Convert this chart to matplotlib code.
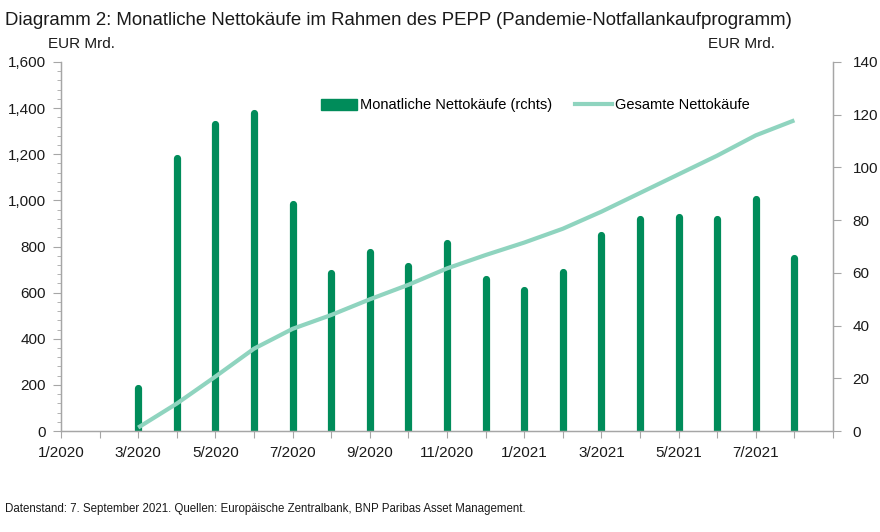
import matplotlib
matplotlib.use("Agg")
import matplotlib.pyplot as plt
from matplotlib.lines import Line2D
from matplotlib.patches import Patch

plt.rcParams['font.family'] = ['Liberation Sans', 'DejaVu Sans']

months = ["1/2020", "2/2020", "3/2020", "4/2020", "5/2020", "6/2020", "7/2020",
          "8/2020", "9/2020", "10/2020", "11/2020", "12/2020", "1/2021", "2/2021",
          "3/2021", "4/2021", "5/2021", "6/2021", "7/2021", "8/2021", "9/2021"]

# monthly net purchases (right axis, EUR bn), from 3/2020 to 8/2021
bar_months = ["3/2020", "4/2020", "5/2020", "6/2020", "7/2020", "8/2020", "9/2020",
              "10/2020", "11/2020", "12/2020", "1/2021", "2/2021", "3/2021", "4/2021",
              "5/2021", "6/2021", "7/2021", "8/2021"]
monthly = [16.2, 103.7, 116.4, 120.8, 86.2, 59.9, 67.8, 62.6, 71.3, 57.8,
           53.6, 60.4, 74.2, 80.5, 81.2, 80.5, 87.9, 65.5]

# total net purchases (left axis, EUR bn)
total = [15, 119, 236, 357, 443, 503, 571, 634, 705, 763,
         817, 877, 951, 1032, 1113, 1194, 1282, 1347]

bar_color = "#008C5A"
line_color = "#8FD4BF"
grey = "#A6A6A6"
txt = "#1a1a1a"

fig = plt.figure(figsize=(8.8, 5.32), dpi=100)
ax = fig.add_axes([0.0693, 0.1898, 0.8773, 0.6937])
ax2 = ax.twinx()

xpos = [months.index(m) for m in bar_months]

ax2.vlines(xpos, 0, monthly, color=bar_color, linewidth=5.2, capstyle="round")
ax.plot(xpos, total, color=line_color, linewidth=3.0, solid_capstyle="butt")

ax.set_zorder(ax2.get_zorder() + 1)
ax.patch.set_visible(False)

ax.set_xlim(0, 20)
ax.set_ylim(0, 1600)
ax2.set_ylim(0, 140)

ax.set_yticks(range(0, 1601, 200))
ax.set_yticklabels([f"{v:,}" for v in range(0, 1601, 200)])
ax.set_yticks(range(0, 1601, 40), minor=True)
ax2.set_yticks(range(0, 141, 20))

ax.set_xticks(range(0, 21))
ax.set_xticklabels([m if i % 2 == 0 and i < 20 else "" for i, m in enumerate(months)])

for a in (ax, ax2):
    a.spines["top"].set_visible(False)
    for s in ("left", "right", "bottom"):
        a.spines[s].set_color(grey)
        a.spines[s].set_linewidth(0.9)
    a.tick_params(which="both", color=grey, labelsize=11, labelcolor=txt)
ax.tick_params(axis="y", which="major", length=6, pad=5)
ax.tick_params(axis="y", which="minor", length=3)
ax.tick_params(axis="x", length=5, pad=6)
ax2.tick_params(axis="y", length=6, pad=8)

fig.text(0.006, 0.962, "Diagramm 2: Monatliche Nettokäufe im Rahmen des PEPP (Pandemie-Notfallankaufprogramm)",
         fontsize=13.4, color=txt, va="center")
fig.text(0.055, 0.918, "EUR Mrd.", fontsize=11, color=txt, va="center")
fig.text(0.805, 0.918, "EUR Mrd.", fontsize=11, color=txt, va="center")
fig.text(0.006, 0.043, "Datenstand: 7. September 2021. Quellen: Europäische Zentralbank, BNP Paribas Asset Management.",
         fontsize=8.3, color=txt, va="center")

handles = [Patch(facecolor=bar_color, edgecolor=bar_color),
           Line2D([0], [0], color=line_color, linewidth=3)]
ax.legend(handles, ["Monatliche Nettokäufe (rchts)", "Gesamte Nettokäufe"],
          loc="center", bbox_to_anchor=(0.614, 0.883), ncol=2, frameon=False,
          fontsize=10.5, handlelength=2.5, handleheight=0.8, columnspacing=1.6,
          handletextpad=0.2)

fig.savefig("out.png", dpi=100)
